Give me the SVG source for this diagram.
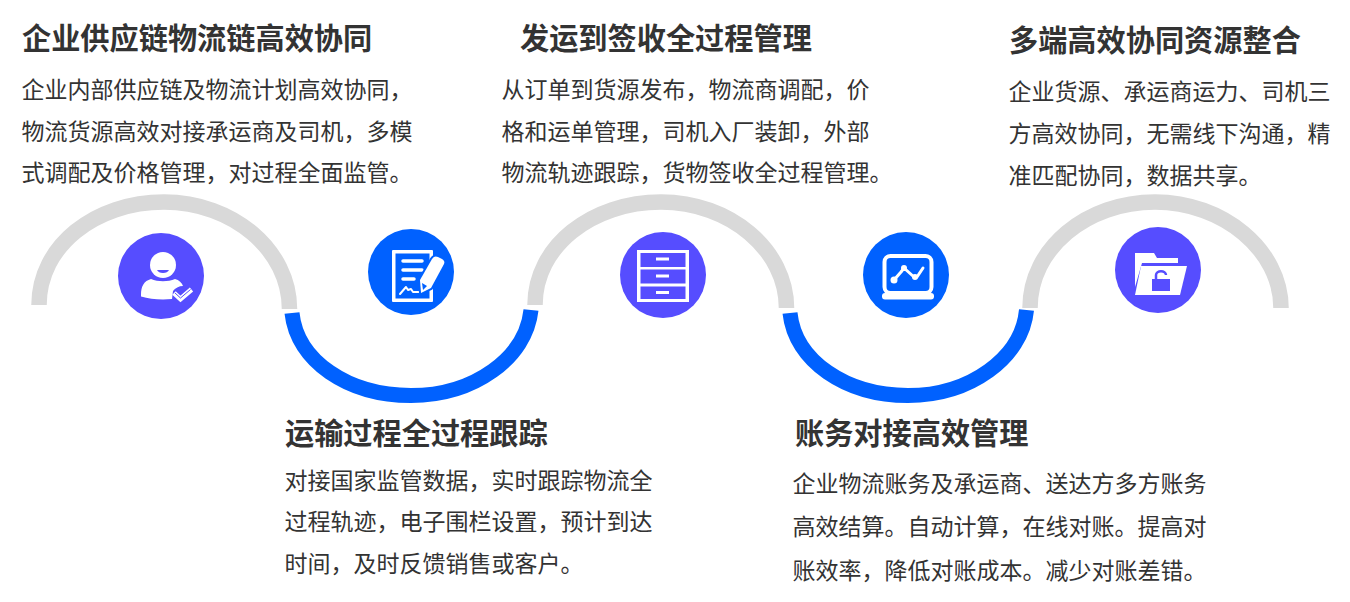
<svg xmlns="http://www.w3.org/2000/svg" width="1350" height="602" viewBox="0 0 1350 602">
<style>
text{font-family:"Noto Sans CJK SC","Noto Sans",sans-serif;fill:#333}
.t{font-size:29.200px;font-weight:700}
.b{font-size:23px}
.g{fill:none;stroke:#d9d9d9;stroke-width:15.5}
.u{fill:none;stroke:#0061ff;stroke-width:15}
.p{fill:#564dff}.c{fill:#0061ff}
.w{fill:#fff}
.l{fill:none;stroke:#fff;stroke-linecap:round;stroke-linejoin:round}
</style>
<rect width="1350" height="602" fill="#fff"/>
<g id="connectors">
<path class="g" d="M39 305C39 246 95 202 164 202S289.500 250 289.500 309"/>
<path class="u" d="M292 313C297 361 348 395.500 411 395.500S526 358 531 310"/>
<path class="g" d="M535 305C535 246 592 202 661 202S786.500 250 786.500 308"/>
<path class="u" d="M790 313C795 361 846 395.500 908 395.500S1022 358 1026.500 310"/>
<path class="g" d="M1030 308C1030 248 1087 202 1155 202S1281 250 1281 308"/>
</g>
<g id="node1">
<text class="t" x="22" y="49">企业供应链物流链高效协同</text>
<text class="b" x="21.500" y="98">企业内部供应链及物流计划高效协同，</text>
<text class="b" x="21.500" y="139.500">物流货源高效对接承运商及司机，多模</text>
<text class="b" x="21.500" y="181">式调配及价格管理，对过程全面监管。</text>
<circle class="p" cx="161" cy="276" r="43"/>
<circle class="w" cx="163" cy="265" r="13"/>
<path class="p" d="M157 270h12c-1 2-3 3-6 3s-5-1-6-3z"/>
<path class="w" d="M141 295c0-9 3-14 10-16 7 3 17 3 24 0 4 1 7 4 8 7-4 0-8 2-10 5l-1 8c-12 1-22 0-31-2.500z"/>
<path d="M174 293l6.500 6 11-9.500" fill="none" stroke="#fff" stroke-width="5"/>
<path d="M175 293l5.500 5 10-8.500" fill="none" stroke="#564dff" stroke-width="1"/>
</g>
<g id="node2">
<text class="t" x="285" y="444">运输过程全过程跟踪</text>
<text class="b" x="284.500" y="489">对接国家监管数据，实时跟踪物流全</text>
<text class="b" x="284.500" y="530">过程轨迹，电子围栏设置，预计到达</text>
<text class="b" x="284.500" y="572">时间，及时反馈销售或客户。</text>
<circle class="c" cx="411" cy="272" r="43"/>
<rect class="w" x="392" y="250" width="41" height="52" rx="1"/>
<rect class="c" x="395.500" y="253.500" width="34" height="45"/>
<path class="l" stroke-width="3.500" d="M403 261h19M403 270h19M403 279h11"/>
<path class="l" stroke-width="2" d="M400 294l6-7 2 3 3-1 2 3h6"/>
<path class="c" d="M421 293l-1-13 12-21c2-3 4-3 6-2l4 2c2 1 3 3 2 5l-13 24z" stroke="#0061ff" stroke-width="4"/>
<path class="w" d="M421 293l-1-13 12-21c2-3 4-3 6-2l4 2c2 1 3 3 2 5l-13 24z"/>
<path class="c" d="M422 283l5 3-4 4z"/>
</g>
<g id="node3">
<text class="t" x="520" y="49">发运到签收全过程管理</text>
<text class="b" x="501.500" y="98">从订单到货源发布，物流商调配，价</text>
<text class="b" x="501.500" y="139.500">格和运单管理，司机入厂装卸，外部</text>
<text class="b" x="501.500" y="181">物流轨迹跟踪，货物签收全过程管理。</text>
<circle class="p" cx="663" cy="275" r="43"/>
<path class="w" d="M637 250h52v52h-52z"/>
<path class="p" d="M640.500 253h45v14h-45zM640.500 269.500h45v14h-45zM640.500 286.500h45v12.500h-45z"/>
<path class="w" d="M656 257.500h13v3h-13zM656 274.500h13v3h-13zM656 291h13v3h-13z"/>
</g>
<g id="node4">
<text class="t" x="795" y="444">账务对接高效管理</text>
<text class="b" x="792.500" y="491.500">企业物流账务及承运商、送达方多方账务</text>
<text class="b" x="792.500" y="535">高效结算。自动计算，在线对账。提高对</text>
<text class="b" x="792.500" y="579">账效率，降低对账成本。减少对账差错。</text>
<circle class="c" cx="906" cy="275" r="43"/>
<rect x="884.500" y="256" width="47" height="37" rx="6" fill="none" stroke="#fff" stroke-width="4"/>
<rect class="w" x="882" y="293" width="52" height="6.500" rx="3"/>
<path class="l" stroke-width="3" d="M894 280l7-8 3-4 10 9 3 0 6-9"/>
<circle class="w" cx="894" cy="280" r="3.500"/>
<circle class="w" cx="904" cy="268" r="3"/>
<circle class="w" cx="915" cy="277" r="3"/>
</g>
<g id="node5">
<text class="t" x="1009" y="50.500">多端高效协同资源整合</text>
<text class="b" x="1008.500" y="100">企业货源、承运商运力、司机三</text>
<text class="b" x="1008.500" y="142">方高效协同，无需线下沟通，精</text>
<text class="b" x="1008.500" y="183.500">准匹配协同，数据共享。</text>
<circle class="p" cx="1158" cy="270" r="43"/>
<path class="w" d="M1135 253h19l3 5h21v5h-36l-7 24z"/>
<path class="w" d="M1141 266h46l-7 29h-45z"/>
<rect class="p" x="1152" y="279" width="18" height="12"/>
<path d="M1156 280v-5c0-5 10-5 10 0" fill="none" stroke="#564dff" stroke-width="2.500"/>
</g>
</svg>
